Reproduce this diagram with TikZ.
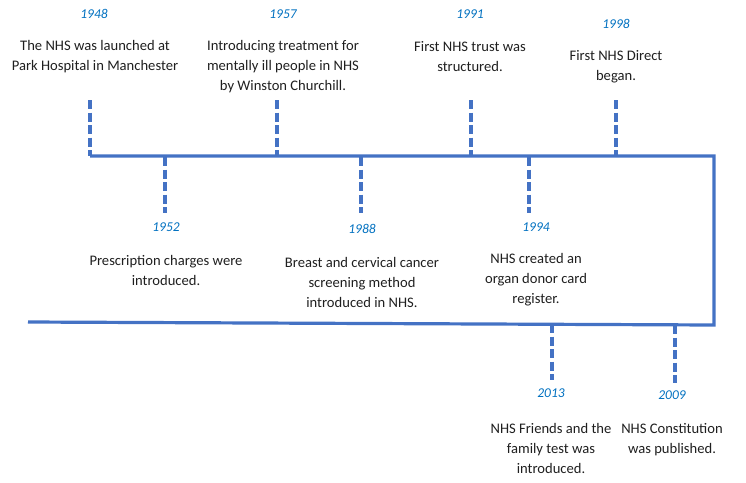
\documentclass[tikz,border=0pt]{standalone}
\usepackage{fontspec}
\setmainfont{Carlito}
\definecolor{lineblue}{RGB}{68,114,196}
\definecolor{yearblue}{RGB}{0,112,192}
\begin{document}
\begin{tikzpicture}[x=1pt,y=-1pt,
  axis/.style={draw=lineblue,line width=3.2pt},
  tick/.style={draw=lineblue,line width=3.2pt,dash pattern=on 9pt off 3.5pt},
  year/.style={font=\fontsize{13.5}{15}\selectfont\itshape,text=yearblue,inner sep=0pt},
  event/.style={font=\fontsize{14.6}{20}\selectfont,align=center,inner sep=0pt,text=black!88}]
\useasboundingbox (0,0) rectangle (746,482);
% main line
\coordinate (tl) at (90,156);
\coordinate (tr) at (714,156);
\coordinate (br) at (714,325);
\coordinate (bl) at (28,322);
\draw[axis] (tl) -- (tr) -- (br) -- (bl);
% ticks
\coordinate (a1) at (90,100);  \coordinate (a2) at (90,156);
\coordinate (b1) at (277,100); \coordinate (b2) at (277,156);
\coordinate (c1) at (471,100); \coordinate (c2) at (471,156);
\coordinate (d1) at (616,100); \coordinate (d2) at (616,156);
\coordinate (e1) at (165,157); \coordinate (e2) at (165,213);
\coordinate (f1) at (361,157); \coordinate (f2) at (361,213);
\coordinate (g1) at (529,157); \coordinate (g2) at (529,213);
\coordinate (h1) at (552,324); \coordinate (h2) at (552,380);
\coordinate (i1) at (675,325); \coordinate (i2) at (675,383);
\foreach \p in {a,b,c,d,e,f,g,h,i}{\draw[tick] (\p1) -- (\p2);}
% years
\node[year] (y1948) at (94,14) {1948};
\node[year] (y1957) at (283,14) {1957};
\node[year] (y1991) at (470,14) {1991};
\node[year] (y1998) at (616,24) {1998};
\node[year] (y1952) at (166,227) {1952};
\node[year] (y1988) at (362,229) {1988};
\node[year] (y1994) at (536,227) {1994};
\node[year] (y2013) at (551,393) {2013};
\node[year] (y2009) at (672,395) {2009};
% events
\node[event] (t1948) at (95,57) {The NHS was launched at\\Park Hospital in Manchester};
\node[event] (t1957) at (283,67) {Introducing treatment for\\mentally ill people in NHS\\by Winston Churchill.};
\node[event] (t1991) at (470,57) {First NHS trust was\\structured.};
\node[event] (t1998) at (616,67) {First NHS Direct\\began.};
\node[event] (t1952) at (166,270) {Prescription charges were\\introduced.};
\node[event] (t1988) at (362,282) {Breast and cervical cancer\\screening method\\introduced in NHS.};
\node[event] (t1994) at (536,280) {NHS created an\\organ donor card\\register.};
\node[event] (t2013) at (551,448) {NHS Friends and the\\family test was\\introduced.};
\node[event] (t2009) at (672,440) {NHS Constitution\\was published.};
\end{tikzpicture}
\end{document}
